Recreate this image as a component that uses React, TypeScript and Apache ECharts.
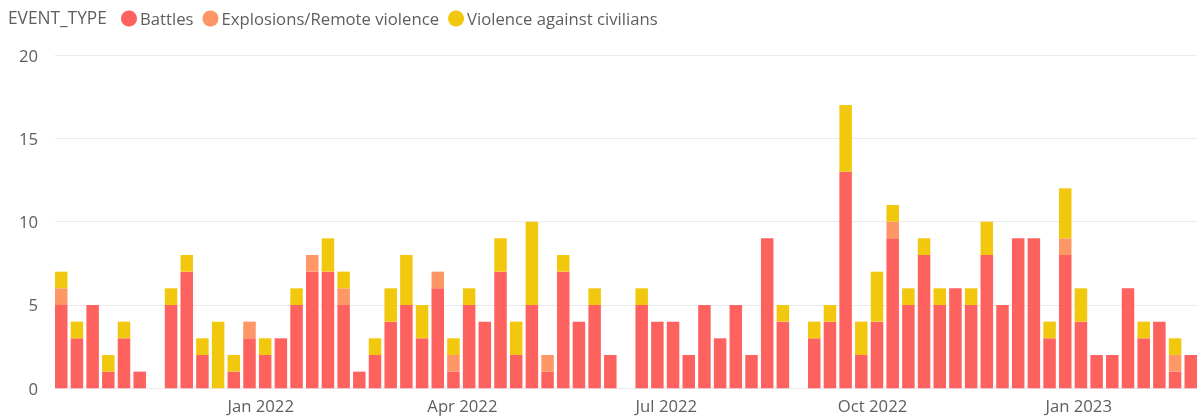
import React, { useEffect, useRef } from "react";
import * as echarts from "echarts";

const weeks: string[] = [
  "2021-10-04", "2021-10-11", "2021-10-18", "2021-10-25", "2021-11-01", "2021-11-08", "2021-11-15",
  "2021-11-22", "2021-11-29", "2021-12-06", "2021-12-13", "2021-12-20", "2021-12-27", "2022-01-03",
  "2022-01-10", "2022-01-17", "2022-01-24", "2022-01-31", "2022-02-07", "2022-02-14", "2022-02-21",
  "2022-02-28", "2022-03-07", "2022-03-14", "2022-03-21", "2022-03-28", "2022-04-04", "2022-04-11",
  "2022-04-18", "2022-04-25", "2022-05-02", "2022-05-09", "2022-05-16", "2022-05-23", "2022-05-30",
  "2022-06-06", "2022-06-13", "2022-06-20", "2022-06-27", "2022-07-04", "2022-07-11", "2022-07-18",
  "2022-07-25", "2022-08-01", "2022-08-08", "2022-08-15", "2022-08-22", "2022-08-29", "2022-09-05",
  "2022-09-12", "2022-09-19", "2022-09-26", "2022-10-03", "2022-10-10", "2022-10-17", "2022-10-24",
  "2022-10-31", "2022-11-07", "2022-11-14", "2022-11-21", "2022-11-28", "2022-12-05", "2022-12-12",
  "2022-12-19", "2022-12-26", "2023-01-02", "2023-01-09", "2023-01-16", "2023-01-23", "2023-01-30",
  "2023-02-06", "2023-02-13", "2023-02-20",
];

const battles: number[] = [
  5, 3, 5, 1, 3, 1, 0, 5, 7, 2, 0, 1, 3, 2, 3, 5, 7, 7, 5, 1, 2, 4, 5, 3, 6, 1, 5, 4, 7, 2, 5, 1, 7, 4, 5, 2, 0,
  5, 4, 4, 2, 5, 3, 5, 2, 9, 4, 0, 3, 4, 13, 2, 4, 9, 5, 8, 5, 6, 5, 8, 5, 9, 9, 3, 8, 4, 2, 2, 6, 3, 4, 1, 2,
];

const explosions: number[] = [
  1, 0, 0, 0, 0, 0, 0, 0, 0, 0, 0, 0, 1, 0, 0, 0, 1, 0, 1, 0, 0, 0, 0, 0, 1, 1, 0, 0, 0, 0, 0, 1, 0, 0, 0, 0, 0,
  0, 0, 0, 0, 0, 0, 0, 0, 0, 0, 0, 0, 0, 0, 0, 0, 1, 0, 0, 0, 0, 0, 0, 0, 0, 0, 0, 1, 0, 0, 0, 0, 0, 0, 1, 0,
];

const violence: number[] = [
  1, 1, 0, 1, 1, 0, 0, 1, 1, 1, 4, 1, 0, 1, 0, 1, 0, 2, 1, 0, 1, 2, 3, 2, 0, 1, 1, 0, 2, 2, 5, 0, 1, 0, 1, 0, 0,
  1, 0, 0, 0, 0, 0, 0, 0, 0, 1, 0, 1, 1, 4, 2, 3, 1, 1, 1, 1, 0, 1, 2, 0, 0, 0, 1, 3, 2, 0, 0, 0, 1, 0, 1, 0,
];

const seriesNames: string[] = ["Battles", "Explosions/Remote violence", "Violence against civilians"];
const seriesColors: string[] = ["#FD625E", "#FE9666", "#F2C80F"];
const quarterTicks: string[] = ["2022-01-01", "2022-04-01", "2022-07-01", "2022-10-01", "2023-01-01"];
const yTicks: number[] = [0, 5, 10, 15, 20];
const monthNames: string[] = ["Jan", "Feb", "Mar", "Apr", "May", "Jun", "Jul", "Aug", "Sep", "Oct", "Nov", "Dec"];

const toTime = (s: string) => {
  const [y, m, d] = s.split("-").map(Number);
  return Date.UTC(y, m - 1, d);
};

const FONT = "'Open Sans', 'Noto Sans', sans-serif";
const TEXT = "#605E5C";
const W = 1199;
const H = 419;
const GRID_LEFT = 55;
const GRID_RIGHT = 2;
const BAR_W = 12.5;

// time axis spans first to last week; ECharts pads it by half a bar on each side,
// so the label axis gets the same padded extent
const T_MIN = toTime(weeks[0]);
const T_MAX = toTime(weeks[weeks.length - 1]);
const PLOT_W = W - GRID_LEFT - GRID_RIGHT;
const PAD = ((T_MAX - T_MIN) * BAR_W) / (2 * (PLOT_W - BAR_W));

export default function App() {
  const ref = useRef<HTMLDivElement>(null);
  useEffect(() => {
    if (!ref.current) return;
    const chart = echarts.init(ref.current, undefined, { renderer: "svg" });
    const all = [battles, explosions, violence];
    chart.setOption({
      animation: false,
      useUTC: true,
      textStyle: { fontFamily: FONT },
      title: {
        text: "EVENT_TYPE",
        left: 8,
        top: 9,
        padding: 0,
        textStyle: { fontFamily: FONT, fontSize: 17.3, fontWeight: "normal", color: TEXT },
      },
      legend: {
        left: 121,
        top: 10,
        padding: 0,
        icon: "circle",
        itemWidth: 16,
        itemHeight: 16,
        itemGap: 9,
        data: seriesNames,
        textStyle: { fontFamily: FONT, fontSize: 16.7, color: TEXT, padding: [0, 0, 0, -2] },
      },
      grid: { left: GRID_LEFT, right: GRID_RIGHT, top: 55, bottom: 30.7, containLabel: false },
      xAxis: [
        {
          type: "time",
          min: T_MIN,
          max: T_MAX,
          axisLine: { show: false },
          axisTick: { show: false },
          splitLine: { show: false },
          axisLabel: { show: false },
        },
        {
          type: "value",
          position: "bottom",
          min: T_MIN - PAD,
          max: T_MAX + PAD,
          axisLine: { show: false },
          axisTick: { show: false },
          splitLine: { show: false },
          axisLabel: {
            customValues: quarterTicks.map(toTime),
            formatter: (v: number) => {
              const d = new Date(v);
              return monthNames[d.getUTCMonth()] + " " + d.getUTCFullYear();
            },
            fontFamily: FONT,
            fontSize: 16.7,
            color: TEXT,
            margin: 9,
          },
        },
      ],
      yAxis: {
        type: "value",
        min: yTicks[0],
        max: yTicks[yTicks.length - 1],
        interval: 5,
        axisLine: { show: false },
        axisTick: { show: false },
        axisLabel: { fontFamily: FONT, fontSize: 16.7, color: TEXT, margin: 17 },
        splitLine: { lineStyle: { color: "#EAEAEA", width: 1 } },
      },
      series: seriesNames.map((name, si) => ({
        name,
        type: "bar",
        stack: "total",
        xAxisIndex: 0,
        barWidth: BAR_W,
        itemStyle: { color: seriesColors[si] },
        data: weeks.map((w, i) => [toTime(w), all[si][i]]),
      })),
    });
    return () => chart.dispose();
  }, []);
  return <div ref={ref} style={{ position: "fixed", left: 0, top: 0, width: W, height: H }} />;
}
